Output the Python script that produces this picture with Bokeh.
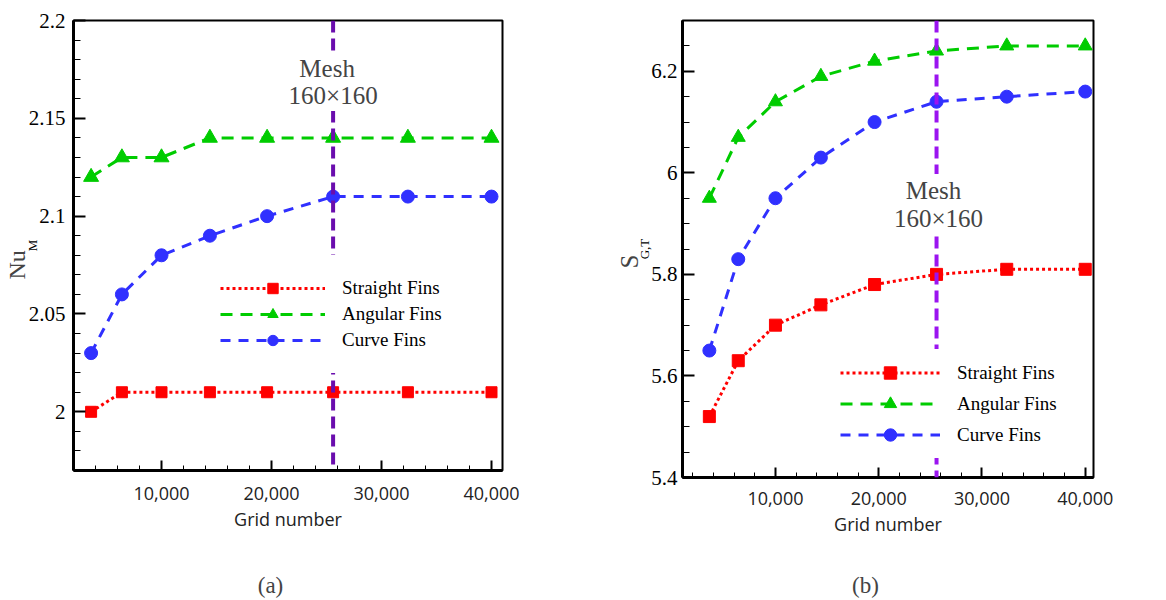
from bokeh.plotting import figure
from bokeh.layouts import row, column
from bokeh.models import (Label, Span, Legend, LegendItem, NumeralTickFormatter,
                          FixedTicker, Range1d, CustomJSTickFormatter, Title)
from bokeh.embed import file_html
from bokeh.resources import INLINE

# ---------------- data ----------------
grid = [3600, 6400, 10000, 14400, 19600, 25600, 32400, 40000]
mesh_grid = 25600

nu_straight = [2.00, 2.01, 2.01, 2.01, 2.01, 2.01, 2.01, 2.01]
nu_angular = [2.12, 2.13, 2.13, 2.14, 2.14, 2.14, 2.14, 2.14]
nu_curve = [2.03, 2.06, 2.08, 2.09, 2.10, 2.11, 2.11, 2.11]

s_straight = [5.52, 5.63, 5.70, 5.74, 5.78, 5.80, 5.81, 5.81]
s_angular = [5.95, 6.07, 6.14, 6.19, 6.22, 6.24, 6.25, 6.25]
s_curve = [5.65, 5.83, 5.95, 6.03, 6.10, 6.14, 6.15, 6.16]

x_major = [10000, 20000, 30000, 40000]
x_minor = list(range(2000, 42000, 2000))
nu_major = [2.0, 2.05, 2.1, 2.15, 2.2]
nu_minor = [round(1.97 + 0.01 * i, 2) for i in range(24)]
s_major = [5.4, 5.6, 5.8, 6.0, 6.2]
s_minor = [round(5.4 + 0.05 * i, 2) for i in range(19)]

series_names = ["Straight Fins", "Angular Fins", "Curve Fins"]

RED = "#FF0000"
GREEN = "#00CC00"
BLUE = "#3030FF"

SERIF = "Liberation Serif"
SANS = "Open Sans"


def style(p, ymajor, yminor, xstandoff, ystandoff):
    p.outline_line_color = "black"
    p.outline_line_width = 2
    p.xgrid.visible = False
    p.ygrid.visible = False
    p.background_fill_color = "white"
    p.border_fill_color = "white"
    xa = p.xaxis[0]
    xa.ticker = FixedTicker(ticks=x_major, minor_ticks=x_minor)
    xa.formatter = NumeralTickFormatter(format="0,0")
    xa.major_tick_in = 10
    xa.major_tick_out = 0
    xa.minor_tick_in = 5
    xa.minor_tick_out = 0
    xa.axis_line_width = 3
    xa.major_tick_line_width = 2
    xa.minor_tick_line_width = 1
    xa.major_label_text_font = SANS
    xa.major_label_text_font_size = "18px"
    xa.major_label_text_color = "#222222"
    xa.major_label_standoff = xstandoff
    xa.axis_label = "Grid number"
    xa.axis_label_text_font = SANS
    xa.axis_label_text_font_size = "18px"
    xa.axis_label_text_font_style = "normal"
    xa.axis_label_text_color = "#222222"
    xa.axis_label_standoff = 4
    ya = p.yaxis[0]
    ya.ticker = FixedTicker(ticks=ymajor, minor_ticks=yminor)
    ya.formatter = CustomJSTickFormatter(code="return String(Number(tick.toFixed(2)));")
    ya.major_tick_in = 12
    ya.major_tick_out = 0
    ya.minor_tick_in = 7
    ya.minor_tick_out = 0
    ya.axis_line_width = 3
    ya.major_tick_line_width = 2
    ya.minor_tick_line_width = 1
    ya.major_label_text_font = SERIF
    ya.major_label_text_font_style = "normal"
    ya.major_label_text_font_size = "21px"
    ya.major_label_text_color = "black"
    ya.major_label_standoff = ystandoff
    ya.axis_label_text_font = SERIF
    ya.axis_label_text_font_style = "normal"
    ya.axis_label_text_font_size = "13px"
    ya.axis_label_text_color = "black"


def add_series(p, ys_list, sizes):
    items = []
    specs = [
        (RED, "3 3", "square"),
        (GREEN, "12 8", "triangle"),
        (BLUE, "10 8", "circle"),
    ]
    for name, ys, (col, dash, mk), sz in zip(series_names, ys_list, specs, sizes):
        ln = p.line(grid, ys, line_color=col, line_width=3, line_dash=dash)
        sc = p.scatter(grid, ys, marker=mk, size=sz, fill_color=col, line_color=col)
        items.append(LegendItem(label=name, renderers=[ln, sc]))
    return items


def make_legend(items, loc, glyph_w, glyph_h, padding):
    lg = Legend(items=items, location=loc, orientation="vertical")
    lg.glyph_width = glyph_w
    lg.glyph_height = glyph_h
    lg.label_height = glyph_h
    lg.spacing = 0
    lg.padding = padding
    lg.margin = 0
    lg.label_standoff = 17
    lg.label_text_font = SERIF
    lg.label_text_font_size = "19px"
    lg.label_text_color = "black"
    lg.border_line_alpha = 0
    lg.background_fill_color = "white"
    lg.background_fill_alpha = 1
    return lg


def caption(width, text, cx):
    c = figure(width=width, height=40, output_backend="svg", toolbar_location=None,
               x_range=Range1d(0, 1), y_range=Range1d(0, 1),
               x_axis_location=None, y_axis_location=None, min_border=0)
    c.outline_line_color = None
    c.xgrid.visible = False
    c.ygrid.visible = False
    c.add_layout(Label(x=cx, y=15, x_units="screen", y_units="screen", text=text,
                       text_font=SERIF, text_font_size="23px",
                       text_align="center", text_baseline="middle"))
    return c


# ---------------- panel (a) ----------------
pa = figure(width=580, height=560, output_backend="svg", toolbar_location=None,
            x_range=Range1d(2000, 41000), y_range=Range1d(1.97, 2.2),
            min_border_left=73, min_border_right=78, min_border_top=20,
            min_border_bottom=90)
style(pa, nu_major, nu_minor, 16, 8)
pa.yaxis[0].axis_label = "M"
pa.yaxis[0].axis_label_standoff = -14
items_a = add_series(pa, [nu_straight, nu_angular, nu_curve], [11, 15, 13])
pa.add_layout(Span(location=mesh_grid, dimension="height", line_color="#6A0DAD",
                   line_width=4, line_dash="12 6"))
for txt, yy, xo in [("Mesh", 402, -6), ("160\u00d7160", 375, 0)]:
    pa.add_layout(Label(x=mesh_grid, y=yy, x_units="data", y_units="screen", x_offset=xo,
                        text=txt, text_font=SERIF, text_font_size="25px",
                        text_align="center", text_baseline="middle",
                        background_fill_color="white", background_fill_alpha=1,
                        padding=2))
pa.add_layout(make_legend(items_a, (127, 97), 105, 26, 20))
pa.add_layout(Title(text="Nu", align="left", offset=191, standoff=-16,
                    vertical_align="bottom", text_font=SERIF, text_font_size="24px",
                    text_font_style="normal"), "left")

# ---------------- panel (b) ----------------
pb = figure(width=586, height=560, output_backend="svg", toolbar_location=None,
            x_range=Range1d(1000, 40800), y_range=Range1d(5.4, 6.3),
            min_border_left=102, min_border_right=73, min_border_top=20,
            min_border_bottom=83)
style(pb, s_major, s_minor, 14, 5)
pb.yaxis[0].axis_label = "G,T"
pb.yaxis[0].axis_label_standoff = -4
items_b = add_series(pb, [s_straight, s_angular, s_curve], [12, 14, 13])
pb.add_layout(Span(location=mesh_grid, dimension="height", line_color="#9B14F0",
                   line_width=4, line_dash="12 6"))
for txt, yy, xo in [("Mesh", 287, -3), ("160\u00d7160", 259, 2)]:
    pb.add_layout(Label(x=mesh_grid, y=yy, x_units="data", y_units="screen", x_offset=xo,
                        text=txt, text_font=SERIF, text_font_size="25px",
                        text_align="center", text_baseline="middle",
                        background_fill_color="white", background_fill_alpha=1,
                        padding=3))
pb.add_layout(make_legend(items_b, (150, 19), 100, 31, 8))
pb.add_layout(Title(text="S", align="left", offset=209, standoff=-16,
                    vertical_align="bottom", text_font=SERIF, text_font_size="25px",
                    text_font_style="normal"), "left")

layout = row(column(pa, caption(580, "(a)", 197)),
             column(pb, caption(586, "(b)", 183)))
open("out.html", "w").write(file_html(layout, INLINE))
